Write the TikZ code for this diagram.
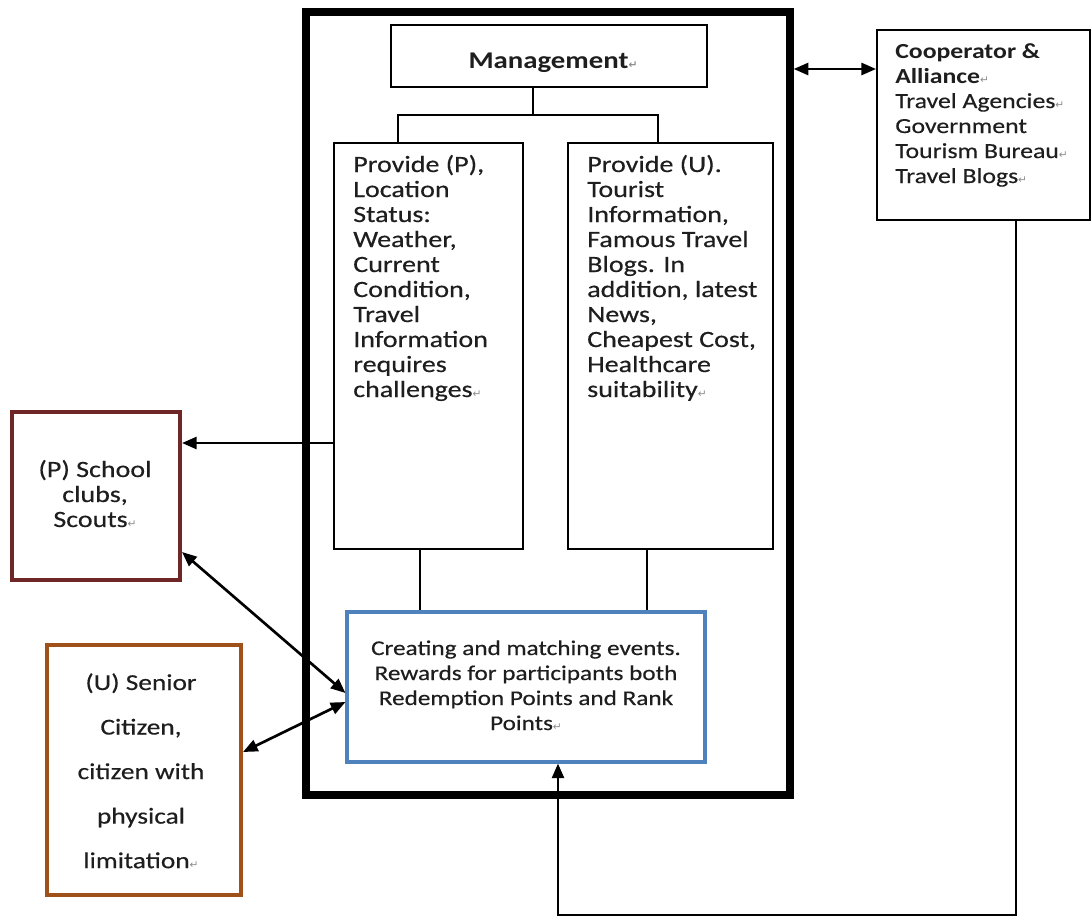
\documentclass[tikz,border=0pt]{standalone}
\usepackage{fontspec}
\setmainfont{Carlito}[FakeStretch=1.2, UprightFeatures={FakeBold=0.4}]
\newfontfamily\markfont{DejaVu Sans}
\usetikzlibrary{arrows.meta}
\definecolor{txt}{RGB}{30,30,30}
\definecolor{evblue}{RGB}{79,129,189}
\definecolor{clubred}{RGB}{110,38,38}
\definecolor{seniorbrown}{RGB}{160,80,25}
\definecolor{markgray}{RGB}{140,140,140}
% paragraph mark after a line
\newcommand{\pmark}{{\markfont\color{markgray}\fontsize{8}{8}\selectfont ↵}}
\tikzset{
  box/.style={draw, inner sep=0pt, line width=#1},
  box/.default=1.1pt,
  conn/.style={line width=1.7pt},
  tip/.style={Triangle[length=11pt,width=9pt]},
  arr/.style={line width=2pt, -{Triangle[length=11pt,width=9pt]}},
  darr/.style={line width=2pt, {Triangle[length=11pt,width=9pt]}-{Triangle[length=11pt,width=9pt]}},
  lefttext/.style={anchor=base west, inner sep=0pt, text=txt},
  midtext/.style={anchor=base, inner sep=0pt, text=txt},
}
\begin{document}
\begin{tikzpicture}[x=0.75pt, y=-0.75pt]
\useasboundingbox (0,0) rectangle (1092,918);

% outer frame of the platform
\node[box=5.5pt, minimum width=363pt, minimum height=587.25pt] (frame) at (548,403.5) {};

% boxes
\node[box=1.4pt, minimum width=237pt, minimum height=46.5pt] (mg) at (549,56) {};
\node[box=1.2pt, minimum width=141.75pt, minimum height=304.5pt] (pbox) at (428.5,346) {};
\node[box=1.2pt, minimum width=153.75pt, minimum height=304.5pt] (ubox) at (670.5,346) {};
\node[box=2.3pt, draw=evblue, minimum width=268.5pt, minimum height=112.5pt] (blue) at (526,687) {};
\node[box=1.4pt, minimum width=159.75pt, minimum height=142.5pt] (coop) at (983.5,125) {};
\node[box=3pt, draw=clubred, minimum width=126pt, minimum height=126pt] (school) at (96,496) {};
\node[box=3pt, draw=seniorbrown, minimum width=145.5pt, minimum height=187.5pt] (senior) at (144,770) {};

% texts
\node[midtext] (mgt) at (553,68) {\fontsize{18}{20}\selectfont\bfseries Management\pmark};

\node[lefttext] (pt) at (353,172) {\parbox[t]{150pt}{\raggedright\fontsize{17.5}{18.75}\selectfont
Provide (P),\\ Location\\ Status:\\ Weather,\\ Current\\ Condition,\\ Travel\\ Information\\ requires\\ challenges\pmark}};

\node[lefttext] (ut) at (587,172) {\parbox[t]{150pt}{\raggedright\fontsize{17.5}{18.75}\selectfont
Provide (U).\\ Tourist\\ Information,\\ Famous Travel\\ Blogs. In\\ addition, latest\\ News,\\ Cheapest Cost,\\ Healthcare\\ suitability\pmark}};

\node[lefttext] (ct) at (895,58) {\parbox[t]{150pt}{\raggedright\fontsize{16.1}{18.75}\selectfont
\textbf{Cooperator \&}\\ \textbf{Alliance}\pmark\\ Travel Agencies\pmark\\ Government\\ Tourism Bureau\pmark\\ Travel Blogs\pmark}};

\node[midtext] (bt) at (526,655) {\parbox[t]{260pt}{\centering\fontsize{15.75}{18.75}\selectfont
Creating and matching events.\\ Rewards for participants both\\ Redemption Points and Rank\\ Points\pmark}};

\node[midtext] (st) at (95,477) {\parbox[t]{120pt}{\centering\fontsize{17.5}{18.75}\selectfont
(P) School\\ clubs,\\ Scouts\pmark}};

\node[midtext] (set) at (141,690) {\parbox[t]{140pt}{\centering\fontsize{17.1}{33.4}\selectfont
(U) Senior\\ Citizen,\\ citizen with\\ physical\\ limitation\pmark}};

% management tree
\coordinate (jM) at (533,115);
\coordinate (jP) at (398,115);
\coordinate (jU) at (658,115);
\draw[conn] (mg.south -| jM) -- (jM);
\draw[conn] (pbox.north -| jP) |- (jU) -- (ubox.north -| jU);

% info boxes feed the event box
\coordinate (dP) at (420,0);
\coordinate (dU) at (647,0);
\draw[conn] (pbox.south -| dP) -- (blue.north -| dP);
\draw[conn] (ubox.south -| dU) -- (blue.north -| dU);

% links to the user groups
\coordinate (aS) at (0,443);
\draw[arr] (pbox.west |- aS) -- (school.east |- aS);
\coordinate (sA) at (0,552);
\coordinate (bA) at (0,693);
\draw[darr] (school.east |- sA) -- (blue.west |- bA);
\coordinate (eA) at (0,752);
\coordinate (bB) at (0,702);
\draw[darr] (senior.east |- eA) -- (blue.west |- bB);

% link to cooperators
\coordinate (cA) at (0,69);
\draw[darr] (frame.east |- cA) -- (coop.west |- cA);
\coordinate (cx) at (1016,915);
\coordinate (bx) at (558,915);
\draw[arr] (coop.south -| cx) -- (cx) -- (bx) -- (blue.south -| bx);
\end{tikzpicture}
\end{document}
